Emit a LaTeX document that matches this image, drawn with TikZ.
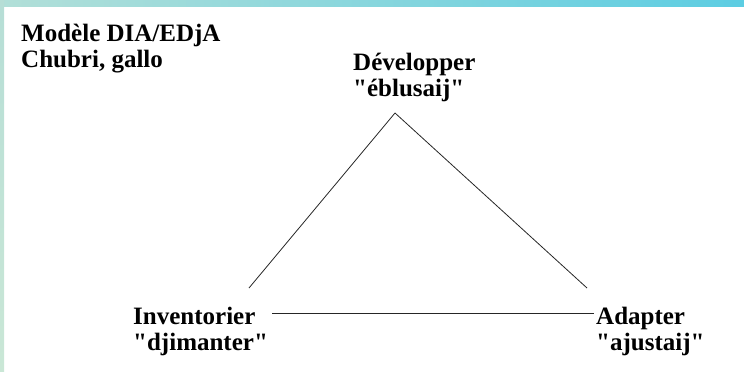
\documentclass[tikz,border=0pt]{standalone}
\usepackage{fontspec}
\setmainfont{Liberation Serif}
\definecolor{bandleft}{RGB}{178,223,216}
\definecolor{bandright}{RGB}{92,205,226}
\definecolor{sidetop}{RGB}{182,222,214}
\definecolor{sidebot}{RGB}{202,231,214}
\newcommand{\qq}[1]{\textquotedbl#1\textquotedbl}

\begin{document}
\begin{tikzpicture}[x=1pt, y=-1pt]
\useasboundingbox (0,0) rectangle (744,372);
\tikzstyle{lbl} = [inner sep=0pt, align=left, anchor=base west, font=\fontsize{25}{26}\selectfont\bfseries];
\tikzstyle{link} = [line width=0.8pt, black!85];
\shade[left color=bandleft, right color=bandright] (0,0) rectangle (744,6);
\shade[top color=sidetop, bottom color=sidebot] (0,0) rectangle (4,372);
% base anchor sits on the last line
\node[lbl] (title) at (21,67) {Modèle DIA/EDjA\\Chubri, gallo};
\node[lbl] (dev) at (353,96) {Développer\\\qq{éblusaij}};
\node[lbl] (inv) at (133,350) {Inventorier\\\qq{djimanter}};
\node[lbl] (ada) at (596,350) {Adapter\\\qq{ajustaij}};
%
\coordinate (tip) at (395,113);
\coordinate (lft) at (249,288);
\coordinate (rgt) at (587,288);
\coordinate (hl) at (272,313);
\coordinate (hr) at (594,313);
\draw[link] (tip) -- (lft);
\draw[link] (tip) -- (rgt);
\draw[link] (hl) -- (hr);
\end{tikzpicture}
\end{document}
